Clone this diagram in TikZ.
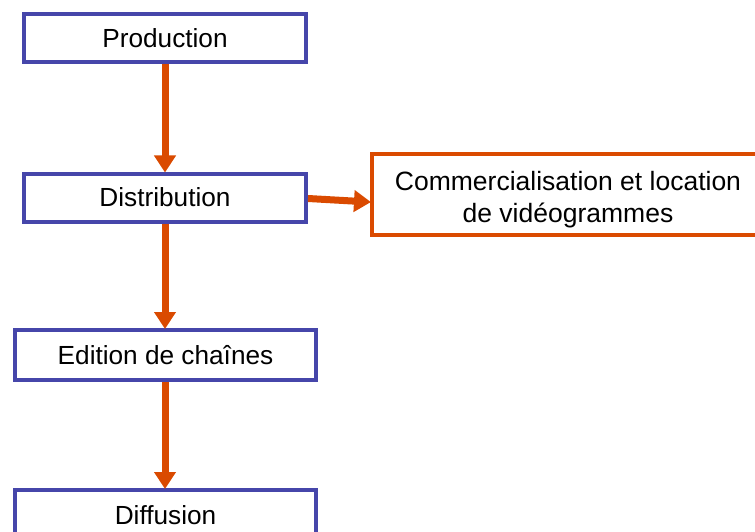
\documentclass[tikz,border=0pt]{standalone}
\usepackage{fontspec}
\setmainfont{Liberation Sans}
\usetikzlibrary{arrows.meta}
\definecolor{boxblue}{RGB}{70,70,170}
\definecolor{flow}{RGB}{218,74,0}
\tikzset{
  stage/.style={draw=boxblue, line width=4pt, fill=white, inner sep=0pt,
    font=\fontsize{26.2}{31}\selectfont},
  outlet/.style={draw=flow, line width=4pt, fill=white, inner sep=0pt, align=center,
    font=\fontsize{26.5}{32}\selectfont},
  flowarrow/.style={draw=flow, line width=7pt,
    -{Triangle[width=21pt,length=17pt]}, shorten >=-1pt}
}
\begin{document}
\begin{tikzpicture}[x=1pt,y=-1pt]
\useasboundingbox (0,0) rectangle (755,532);
\clip (0,0) rectangle (755,532);
\fill[white] (0,0) rectangle (755,532);

\node[stage, minimum width=282pt, minimum height=48pt] (prod) at (165,38.5) {Production};
\node[stage, minimum width=282pt, minimum height=48pt] (dist) at (165,197.5) {Distribution};
\node[stage, minimum width=301pt, minimum height=50pt] (edit) at (165.5,355) {Edition de chaînes};
\node[stage, minimum width=301pt, minimum height=50pt] (diff) at (165.5,515) {Diffusion};
% the strut on the first line lowers the two-line label a little inside the box
\node[outlet, minimum width=392pt, minimum height=81pt] (comm) at (568,194.5)
  {\rule{0pt}{30pt}Commercialisation et location\\de vidéogrammes};

\draw[flowarrow] (prod.south -| 165,0) -- (dist.north -| 165,0);
\draw[flowarrow] (dist.south -| 165,0) -- (edit.north -| 165,0);
\draw[flowarrow] (edit.south -| 165,0) -- (diff.north -| 165,0);
\draw[flowarrow] ([yshift=-1pt]dist.east) -- ([yshift=-7.5pt]comm.west);
\end{tikzpicture}
\end{document}
